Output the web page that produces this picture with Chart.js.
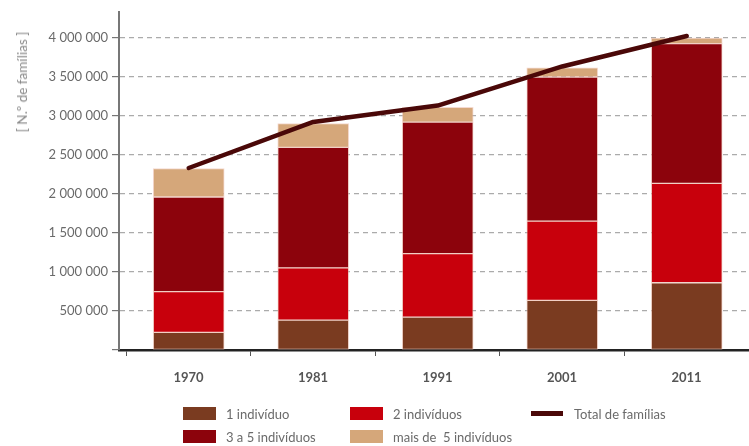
<!DOCTYPE html>
<html>
<head>
<meta charset="utf-8">
<script src="https://cdn.jsdelivr.net/npm/chart.js@4.4.0/dist/chart.umd.js"></script>
<style>
    html, body { margin: 0; padding: 0; background: #fff; overflow: hidden; }
    #wrap { position: relative; width: 749px; height: 446px; font-family: Lato, "Open Sans", sans-serif; }
    #familiasChart { position: absolute; left: 0; top: 0; }
    #yTitle {
        position: absolute; left: 22px; top: 82px;
        transform: translate(-50%, -50%) rotate(-90deg);
        white-space: nowrap; color: #8a8a8a; font-size: 13.5px;
    }
    .legend-item { position: absolute; display: flex; align-items: center; color: #6a6a6a; font-size: 13px; white-space: pre; }
    .legend-box { width: 33px; height: 13px; margin-right: 10px; }
    .legend-line { width: 32px; height: 5px; margin-right: 11px; }
</style>
</head>
<body>
<div id="wrap">
    <canvas id="familiasChart" width="749" height="446"></canvas>
    <div id="yTitle">[ N.º de famílias ]</div>
    <div id="legend"></div>
</div>
<script>
(function() {
    'use strict';

    // Chart data
    const years = ['1970', '1981', '1991', '2001', '2011'];
    const oneIndividual = [225000, 382000, 420000, 636000, 861000];
    const twoIndividuals = [522000, 670000, 814000, 1014000, 1273000];
    const threeToFive = [1212000, 1543000, 1683000, 1845000, 1788000];
    const moreThanFive = [365000, 305000, 191000, 118000, 73000];
    const totalFamilies = [2330000, 2920000, 3130000, 3630000, 4020000];
    const yTickValues = [0, 500000, 1000000, 1500000, 2000000, 2500000, 3000000, 3500000, 4000000];

    const seriesLabels = ['1 indivíduo', '2 indivíduos', 'Total de famílias', '3 a 5 indivíduos', 'mais de  5 indivíduos'];

    const colors = {
        one: '#7a3b20',
        two: '#c8000c',
        threeFive: '#8c030c',
        moreFive: '#d5a77a',
        total: '#4a0808'
    };

    Chart.defaults.font.family = 'Lato, "Open Sans", sans-serif';

    function formatThousands(value) {
        return String(value).replace(/\B(?=(\d{3})+(?!\d))/g, ' ');
    }

    // x is a linear index scale so the bars sit where the original puts them
    function toPoints(values) {
        return values.map(function(v, i) { return { x: i, y: v }; });
    }

    function barDataset(label, data, color) {
        return {
            type: 'bar',
            label: label,
            data: toPoints(data),
            backgroundColor: color,
            borderColor: 'rgba(235, 185, 170, 0.55)',
            borderWidth: 1,
            borderSkipped: false,
            barThickness: 71,
            stack: 'tipos',
            order: 2
        };
    }

    const ctx = document.getElementById('familiasChart').getContext('2d');

    const chartInstance = new Chart(ctx, {
        type: 'bar',
        data: {
            datasets: [
                {
                    type: 'line',
                    label: seriesLabels[2],
                    data: toPoints(totalFamilies),
                    borderColor: colors.total,
                    backgroundColor: colors.total,
                    borderWidth: 4.5,
                    borderCapStyle: 'round',
                    borderJoinStyle: 'round',
                    pointRadius: 0,
                    tension: 0,
                    stack: 'total',
                    order: 1
                },
                barDataset(seriesLabels[0], oneIndividual, colors.one),
                barDataset(seriesLabels[1], twoIndividuals, colors.two),
                barDataset(seriesLabels[3], threeToFive, colors.threeFive),
                barDataset(seriesLabels[4], moreThanFive, colors.moreFive)
            ]
        },
        options: {
            responsive: false,
            devicePixelRatio: 1,
            animation: false,
            layout: {
                padding: { top: 7, right: 0, bottom: 0, left: 0 }
            },
            plugins: {
                legend: { display: false },
                tooltip: { enabled: false }
            },
            scales: {
                x: {
                    type: 'linear',
                    stacked: true,
                    offset: false,
                    min: -0.56,
                    max: 4.5,
                    afterFit: function(scale) {
                        scale.height = 96;
                        scale.paddingLeft = 0;
                        scale.paddingRight = 0;
                    },
                    afterBuildTicks: function(scale) {
                        // tick marks between the categories
                        const marks = [];
                        for (let i = 0; i <= years.length; i++) marks.push({ value: i - 0.5 });
                        scale.ticks = marks;
                    },
                    border: { color: '#222222', width: 2.5 },
                    grid: {
                        offset: false,
                        drawOnChartArea: false,
                        drawTicks: true,
                        tickLength: 6,
                        tickColor: '#555555',
                        lineWidth: 1
                    },
                    ticks: {
                        autoSkip: false,
                        maxRotation: 0,
                        color: '#555555',
                        padding: 14,
                        labelOffset: 62,
                        font: { size: 13, weight: 'bold' },
                        callback: function(value) {
                            return years[Math.round(value + 0.5)] || '';
                        }
                    }
                },
                y: {
                    stacked: true,
                    min: 0,
                    max: 4330000,
                    afterFit: function(scale) { scale.width = 119; },
                    afterBuildTicks: function(scale) {
                        scale.ticks = yTickValues.map(function(v) { return { value: v }; });
                    },
                    border: { color: '#777777', width: 2, dash: [5, 4] },
                    grid: {
                        color: '#ababab',
                        lineWidth: 1.2,
                        tickLength: 7,
                        tickColor: '#777777',
                        tickBorderDash: []
                    },
                    ticks: {
                        color: '#6a6a6a',
                        padding: 4,
                        font: { size: 13 },
                        callback: function(value) {
                            return value === 0 ? '' : formatThousands(value);
                        }
                    }
                }
            }
        }
    });

    // HTML legend, two rows like the original
    const legendItems = [
        { label: seriesLabels[0], color: colors.one, kind: 'box', left: 183, top: 407 },
        { label: seriesLabels[1], color: colors.two, kind: 'box', left: 350, top: 407 },
        { label: seriesLabels[2], color: colors.total, kind: 'line', left: 531, top: 407 },
        { label: seriesLabels[3], color: colors.threeFive, kind: 'box', left: 183, top: 430 },
        { label: seriesLabels[4], color: colors.moreFive, kind: 'box', left: 350, top: 430 }
    ];

    const legendEl = document.getElementById('legend');
    legendItems.forEach(function(item) {
        const row = document.createElement('div');
        row.className = 'legend-item';
        row.style.left = item.left + 'px';
        row.style.top = item.top + 'px';
        row.style.height = '13px';
        const swatch = document.createElement('span');
        swatch.className = item.kind === 'line' ? 'legend-line' : 'legend-box';
        swatch.style.background = item.color;
        const text = document.createElement('span');
        text.textContent = item.label;
        row.appendChild(swatch);
        row.appendChild(text);
        legendEl.appendChild(row);
    });
})();
</script>
</body>
</html>
